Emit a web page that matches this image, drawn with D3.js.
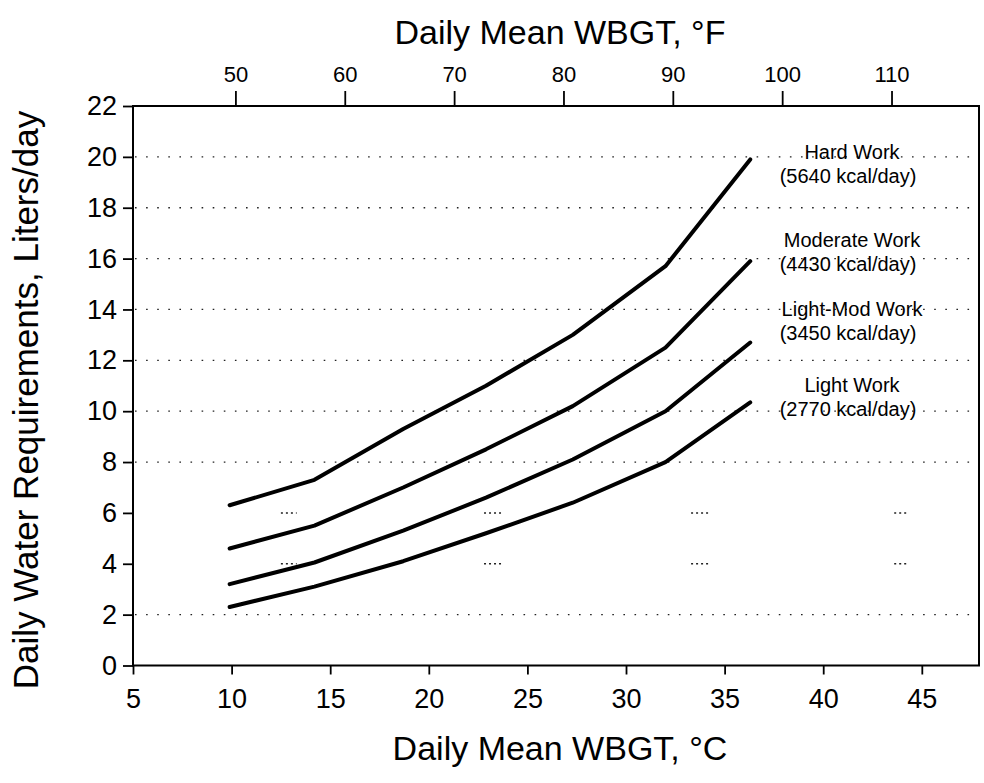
<!DOCTYPE html>
<html>
<head>
<meta charset="utf-8">
<script src="https://cdn.jsdelivr.net/npm/d3@7"></script>
<style>
  html, body { margin: 0; padding: 0; background: #fff; }
  svg { display: block; font-family: "Liberation Sans", Arial, sans-serif; }
</style>
</head>
<body>
<svg id="chart" width="984" height="783"></svg>
<script>
// ---- data ----
const xTicksC = [5, 10, 15, 20, 25, 30, 35, 40, 45];
const xTicksF = [50, 60, 70, 80, 90, 100, 110];
const yTicks = [0, 2, 4, 6, 8, 10, 12, 14, 16, 18, 20, 22];
const gridValues = [2, 8, 10, 12, 14, 16, 18, 20];
// partial (faded) gridlines at 4 and 6: only short pieces remain visible
const partialGridValues = [4, 6];
const partialGridSpans = [[12.5, 13.3], [22.8, 23.8], [33.3, 34.2], [43.6, 44.3]];

const wbgtC = [9.9, 14.2, 18.7, 22.9, 27.3, 32.0, 36.3];
const hardWork     = [6.3, 7.3, 9.3, 11.0, 13.0, 15.7, 19.9];
const moderateWork = [4.6, 5.5, 7.0, 8.5, 10.2, 12.5, 15.9];
const lightModWork = [3.2, 4.05, 5.3, 6.6, 8.1, 10.0, 12.7];
const lightWork    = [2.3, 3.1, 4.1, 5.2, 6.4, 8.0, 10.35];

const seriesNames = ["Hard Work", "Moderate Work", "Light-Mod Work", "Light Work"];
const seriesKcal = ["(5640 kcal/day)", "(4430 kcal/day)", "(3450 kcal/day)", "(2770 kcal/day)"];
const seriesValues = [hardWork, moderateWork, lightModWork, lightWork];

// ---- layout ----
const svg = d3.select("#chart");
const pLeft = 133, pRight = 979, pTop = 106, pBottom = 665.5;

const x = d3.scaleLinear().domain([5, 47.9]).range([pLeft, pRight]);
const xF = d3.scaleLinear().domain([41, 118]).range([137, pRight]);
const y = d3.scaleLinear().domain([0, 22]).range([pBottom, pTop]);

// gridlines
svg.append("g").selectAll("line").data(gridValues).join("line")
  .attr("x1", pLeft + 2).attr("x2", pRight - 2)
  .attr("y1", d => y(d)).attr("y2", d => y(d))
  .attr("stroke", "#222").attr("stroke-width", 1.3)
  .attr("stroke-dasharray", "1.6,9.5");

const pg = svg.append("g");
partialGridValues.forEach(v => {
  pg.selectAll(null).data(partialGridSpans).join("line")
    .attr("x1", d => x(d[0])).attr("x2", d => x(d[1]))
    .attr("y1", y(v)).attr("y2", y(v))
    .attr("stroke", "#222").attr("stroke-width", 1.5)
    .attr("stroke-dasharray", "2,3");
});

// frame
svg.append("rect").attr("x", pLeft).attr("y", pTop)
  .attr("width", pRight - pLeft).attr("height", pBottom - pTop)
  .attr("fill", "none").attr("stroke", "#000").attr("stroke-width", 2);

// bottom axis
const gB = svg.append("g").attr("transform", `translate(0,${pBottom})`)
  .call(d3.axisBottom(x).tickValues(xTicksC).tickSize(9).tickPadding(14).tickFormat(d3.format("d")));
gB.select(".domain").remove();
gB.selectAll("line").attr("stroke", "#000").attr("stroke-width", 1.8);
gB.selectAll("text").attr("font-size", 27).attr("fill", "#000")
  .attr("font-family", "Liberation Sans, Arial, sans-serif");

// top axis
const gT = svg.append("g").attr("transform", `translate(0,${pTop})`)
  .call(d3.axisTop(xF).tickValues(xTicksF).tickSize(15).tickPadding(9).tickFormat(d3.format("d")));
gT.select(".domain").remove();
gT.selectAll("line").attr("stroke", "#000").attr("stroke-width", 1.8);
gT.selectAll("text").attr("font-size", 22).attr("fill", "#000")
  .attr("font-family", "Liberation Sans, Arial, sans-serif");

// left axis
const gL = svg.append("g").attr("transform", `translate(${pLeft},0)`)
  .call(d3.axisLeft(y).tickValues(yTicks).tickSize(10).tickPadding(6).tickFormat(d3.format("d")));
gL.select(".domain").remove();
gL.selectAll("line").attr("stroke", "#000").attr("stroke-width", 1.8);
gL.selectAll("text").attr("font-size", 27).attr("fill", "#000")
  .attr("font-family", "Liberation Sans, Arial, sans-serif");

// lines
const line = d3.line().x((d, i) => x(wbgtC[i])).y(d => y(d));
svg.append("g").selectAll("path").data(seriesValues).join("path")
  .attr("d", d => line(d))
  .attr("fill", "none").attr("stroke", "#000").attr("stroke-width", 4)
  .attr("stroke-linejoin", "round").attr("stroke-linecap", "round");

// series labels (positioned relative to each series' last point)
const nameOffsets = [0, -14, -27, -10];
const kcalOffsets = [24, 10, -3, 14];
const lab = svg.append("g").attr("font-size", 20).attr("text-anchor", "middle").attr("fill", "#000");
seriesValues.forEach((vals, i) => {
  const yv = y(vals[vals.length - 1]);
  const cx = 850;
  lab.append("text").attr("x", cx + 2).attr("y", yv + nameOffsets[i]).text(seriesNames[i]);
  lab.append("text").attr("x", cx - 2).attr("y", yv + kcalOffsets[i]).text(seriesKcal[i]);
});

// axis titles
svg.append("text").attr("x", 560).attr("y", 44).attr("text-anchor", "middle")
  .attr("font-size", 34).text("Daily Mean WBGT, °F");
svg.append("text").attr("x", 560).attr("y", 760).attr("text-anchor", "middle")
  .attr("font-size", 34).text("Daily Mean WBGT, °C");
svg.append("text").attr("transform", "translate(38,400) rotate(-90)").attr("text-anchor", "middle")
  .attr("font-size", 35).text("Daily Water Requirements, Liters/day");
</script>
</body>
</html>
